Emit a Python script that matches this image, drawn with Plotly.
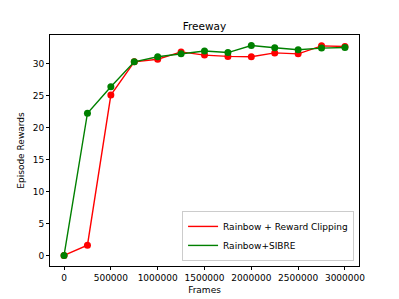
import plotly.graph_objects as go

frames = [0, 250000, 500000, 750000, 1000000, 1250000, 1500000, 1750000,
          2000000, 2250000, 2500000, 2750000, 3000000]
clipping = [0, 1.6, 25.1, 30.3, 30.7, 31.85, 31.35, 31.15, 31.1, 31.7, 31.55, 32.8, 32.7]
sibre = [0, 22.25, 26.4, 30.3, 31.1, 31.55, 32.0, 31.75, 32.85, 32.5, 32.2, 32.45, 32.55]

xticks = [0, 500000, 1000000, 1500000, 2000000, 2500000, 3000000]
yticks = [0, 5, 10, 15, 20, 25, 30]

font = "DejaVu Sans"
series = [("Rainbow + Reward Clipping", clipping, "#ff0000"),
          ("Rainbow+SIBRE", sibre, "#008000")]

fig = go.Figure()
for name, vals, col in series:
    fig.add_trace(go.Scatter(x=frames, y=vals, mode="lines+markers", name=name,
                             showlegend=False,
                             line=dict(color=col, width=1.4),
                             marker=dict(color=col, size=7)))
for name, vals, col in series:
    fig.add_trace(go.Scatter(x=[None], y=[None], mode="lines", name=name,
                             line=dict(color=col, width=1.4)))

axis_common = dict(showline=True, linecolor="black", linewidth=1, mirror=True,
                   ticks="outside", ticklen=3, tickcolor="black", showgrid=False,
                   zeroline=False, automargin=False,
                   tickfont=dict(family=font, size=9, color="black"))

W, H = 391, 291
fig.update_layout(
    width=W, height=H,
    margin=dict(l=42, r=40, t=27, b=33),
    paper_bgcolor="white", plot_bgcolor="white",
    title=dict(text="Freeway", x=(42 + 309 / 2) / W, xanchor="center",
               y=1 - 18 / H, yanchor="middle",
               font=dict(family=font, size=10.5, color="black")),
    xaxis=dict(range=[-150000, 3150000], tickvals=xticks,
               ticktext=[str(v) for v in xticks],
               title=dict(text="Frames", font=dict(family=font, size=9, color="black"),
                          standoff=4),
               **axis_common),
    yaxis=dict(range=[-1.66, 34.5], tickvals=yticks,
               title=dict(text="Episode Rewards", font=dict(family=font, size=9, color="black"),
                          standoff=6),
               **axis_common),
    legend=dict(x=0.984, y=0.022, xanchor="right", yanchor="bottom",
                bgcolor="white", bordercolor="#cccccc", borderwidth=1,
                font=dict(family=font, size=9, color="black"),
                tracegroupgap=0, itemwidth=30),
    showlegend=True,
)

fig.write_html("out.html")
